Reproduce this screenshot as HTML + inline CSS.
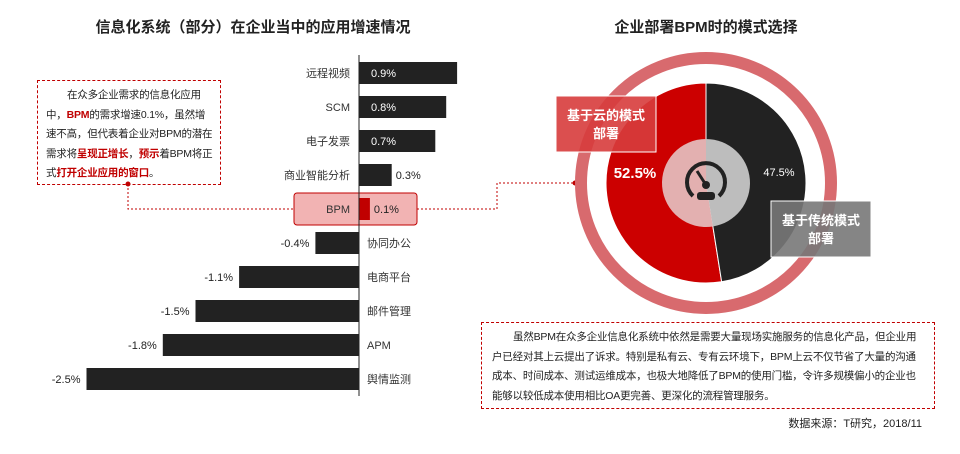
<!DOCTYPE html>
<html><head><meta charset="utf-8"><style>
body{margin:0;width:960px;height:454px;background:#fff;overflow:hidden;font-family:"Liberation Sans","Noto Sans CJK SC",sans-serif;}
svg{position:absolute;left:0;top:0}
.box{position:absolute;border:1px dashed #c00000;font-size:10.5px;line-height:19.5px;color:#222;box-sizing:border-box;letter-spacing:-0.2px}
.r{color:#c00000;font-weight:bold}
</style></head><body>
<svg width="960" height="454" id="svg">
<text x="253" y="32" text-anchor="middle" font-size="15" font-weight="bold" fill="#222">信息化系统（部分）在企业当中的应用增速情况</text>
<text x="706" y="32" text-anchor="middle" font-size="15" font-weight="bold" fill="#222">企业部署BPM时的模式选择</text>
<g id="bars"></g>
<polyline points="128,184 128,209 294,209" fill="none" stroke="#c00000" stroke-dasharray="2,2"/>
<polyline points="417,209 497,209 497,183 575,183" fill="none" stroke="#c00000" stroke-dasharray="2,2"/>
<circle cx="128" cy="184" r="2.5" fill="#c00000"/>
<circle cx="575" cy="183" r="2.5" fill="#c00000"/>
<g id="pie"></g>
</svg>
<div class="box" style="left:37px;top:80px;width:184px;height:105px;padding:5px 6px 0 8px;text-indent:2em">在众多企业需求的信息化应用中，<span class="r">BPM</span>的需求增速0.1%，虽然增速不高，但代表着企业对BPM的潜在需求将<span class="r">呈现正增长</span>，<span class="r">预示</span>着BPM将正式<span class="r">打开企业应用的窗口</span>。</div>
<div class="box" style="left:481px;top:322px;width:454px;height:87px;padding:5px 8px 0 10px;text-indent:2em">虽然BPM在众多企业信息化系统中依然是需要大量现场实施服务的信息化产品，但企业用户已经对其上云提出了诉求。特别是私有云、专有云环境下，BPM上云不仅节省了大量的沟通成本、时间成本、测试运维成本，也极大地降低了BPM的使用门槛，令许多规模偏小的企业也能够以较低成本使用相比OA更完善、更深化的流程管理服务。</div>
<div style="position:absolute;left:700px;top:415px;width:222px;text-align:right;font-size:11px;color:#222">数据来源：T研究，2018/11</div>
<script>
const categories=["远程视频","SCM","电子发票","商业智能分析","BPM","协同办公","电商平台","邮件管理","APM","舆情监测"];
const growth=[0.9,0.8,0.7,0.3,0.1,-0.4,-1.1,-1.5,-1.8,-2.5];
const pieLabels=["基于云的模式部署","基于传统模式部署"];
const pieValues=[52.5,47.5];
const NS="http://www.w3.org/2000/svg";
function mk(t,a,p){const e=document.createElementNS(NS,t);for(const k in a)e.setAttribute(k,a[k]);p.appendChild(e);return e;}
const g=document.getElementById('bars');
const X0=359,K=109,Y0=73,STEP=34,BH=22;
const xs=v=>X0+v*K, ys=i=>Y0+i*STEP;
const hb=mk('rect',{x:294,y:193,width:123,height:32,rx:3,fill:'#f2b3b3',stroke:'#c00000'},g);


categories.forEach((c,i)=>{
 const v=growth[i],y=ys(i),x1=xs(Math.min(0,v)),w=Math.abs(xs(v)-X0);
 const isB=c==='BPM';
 const r=mk('rect',{x:x1,y:y-BH/2,width:w,height:BH,fill:isB?'#c00000':'#222'},g);
 
 
 const lab=mk('text',{x:v>=0?X0-9:X0+8,y:y+4,'font-size':11,fill:'#333','text-anchor':v>=0?'end':'start'},g);
 lab.textContent=c;
 
 
 const inside=v>=0.5;
 const vt=mk('text',{x:v>=0?(inside?X0+12:Math.max(xs(v),X0+8)+4):x1-6,y:y+4,'font-size':11,fill:inside?'#fff':'#222','text-anchor':v>=0?'start':'end'},g);
 vt.textContent=v.toFixed(1)+'%';
 
 
});
const ax=mk('line',{x1:X0,y1:55,x2:X0,y2:396,stroke:'#222','stroke-width':1},g);


const p=document.getElementById('pie');
const CX=706,CY=183,R=100;
const ring=mk('circle',{cx:CX,cy:CY,r:125,fill:'none',stroke:'#d86a6e','stroke-width':12},p);


const tot=pieValues.reduce((a,b)=>a+b,0);
const frac0=pieValues[0]/tot;
function wedge(rad,i,fill){
 const ang=(i===0?-1:1)*(i===0?frac0:1-frac0)*2*Math.PI;
 const x2=CX+rad*Math.sin(ang),y2=CY-rad*Math.cos(ang);
 const large=(i===0?frac0:1-frac0)>0.5?1:0;
 return mk('path',{d:`M${CX},${CY}L${CX},${CY-rad}A${rad},${rad} 0 ${large} ${i===0?0:1} ${x2},${y2}Z`,fill:fill,stroke:'#fff','stroke-width':1},p);
}
['#cc0000','#222'].forEach((c,i)=>{
 const sl=wedge(R,i,c);
 
 
});
['#e3b0b0','#bdbdbd'].forEach((c,i)=>{
 const sl=wedge(44,i,c);
 sl.setAttribute('stroke','none');
 
 
});
// gauge icon
mk('path',{d:`M${CX-13},${CY+13}A19,19 0 1 1 ${CX+13},${CY+13}`,fill:'none',stroke:'#222','stroke-width':4},p);
mk('line',{x1:CX,y1:CY+2,x2:CX-9,y2:CY-12,stroke:'#222','stroke-width':3},p);
mk('circle',{cx:CX,cy:CY+2,r:4,fill:'#222'},p);
mk('rect',{x:CX-9,y:CY+9,width:18,height:8,rx:3,fill:'#222'},p);
const t1=mk('text',{x:635,y:178,'font-size':15,'font-weight':'bold',fill:'#fff','text-anchor':'middle'},p);
t1.textContent=pieValues[0].toFixed(1)+'%';


const t2=mk('text',{x:779,y:176,'font-size':11,fill:'#fff','text-anchor':'middle'},p);
t2.textContent=pieValues[1].toFixed(1)+'%';


[[556,96,'rgba(215,60,60,0.9)'],[771,201,'rgba(120,120,120,0.9)']].forEach((b,i)=>{
 const r=mk('rect',{x:b[0],y:b[1],width:100,height:56,fill:b[2],stroke:'#fff'},p);
 
 
 const lab=pieLabels[i];
 const a=mk('text',{x:b[0]+50,y:b[1]+24,'font-size':13,'font-weight':'bold',fill:'#fff','text-anchor':'middle'},p);
 a.textContent=lab.slice(0,lab.length-2);
 const c=mk('text',{x:b[0]+50,y:b[1]+42,'font-size':13,'font-weight':'bold',fill:'#fff','text-anchor':'middle'},p);
 c.textContent=lab.slice(-2);
});
</script>
</body></html>
